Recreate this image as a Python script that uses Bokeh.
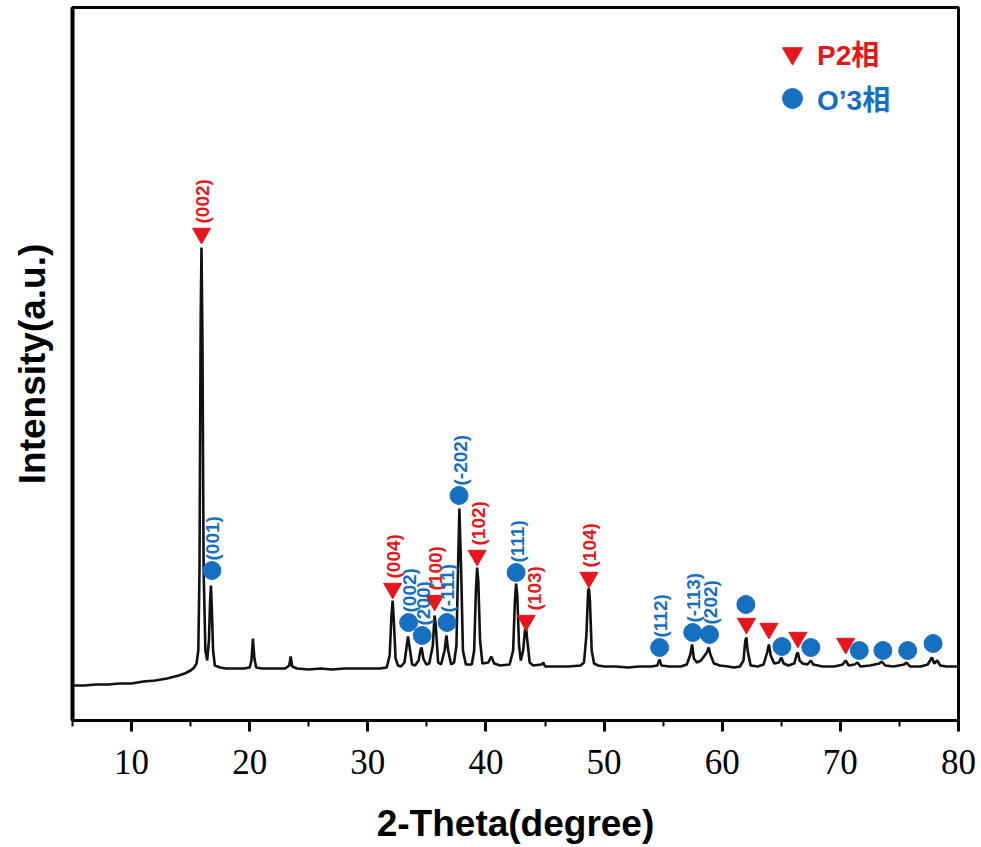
import math
from bokeh.plotting import figure
from bokeh.models import ColumnDataSource, Range1d, FixedTicker, Legend, LegendItem
from bokeh.core.properties import value
from bokeh.embed import file_html
from bokeh.resources import INLINE

# XRD pattern, 2-theta (degree) vs intensity (a.u.)
two_theta = [
    5, 6, 7, 8, 9, 10, 11, 12, 13, 14, 14.5, 15, 15.3, 15.5, 15.65, 15.75,
    15.85, 15.92, 16.0, 16.1, 16.25, 16.4, 16.55, 16.65, 16.72, 16.8, 16.9,
    17.05, 17.5, 18, 18.5, 19, 19.5, 20.0, 20.15, 20.27, 20.4, 20.55, 21, 22,
    23, 23.35, 23.47, 23.6, 24, 25, 26, 27, 28, 29, 30, 31, 31.6, 31.85, 32.0,
    32.1, 32.2, 32.35, 32.55, 32.8, 33.1, 33.3, 33.4, 33.55, 33.75, 34.0, 34.3,
    34.45, 34.55, 34.7, 34.95, 35.2, 35.5, 35.65, 35.75, 35.95, 36.2, 36.5,
    36.65, 36.8, 37.05, 37.3, 37.5, 37.65, 37.75, 37.9, 38.05, 38.3, 38.8,
    39.0, 39.15, 39.25, 39.35, 39.5, 39.7, 40.2, 40.45, 40.7, 41.2, 42.0, 42.3,
    42.45, 42.55, 42.65, 42.8, 42.95, 43.15, 43.3, 43.4, 43.5, 43.7, 44, 44.7,
    44.85, 45, 46, 47, 48, 48.3, 48.5, 48.65, 48.72, 48.8, 48.95, 49.15, 49.5,
    50, 51, 52, 53, 54, 54.5, 54.7, 54.85, 55.5, 56.5, 57.0, 57.3, 57.45, 57.6,
    57.85, 58.2, 58.7, 58.85, 59.0, 59.3, 59.8, 60.5, 61, 61.5, 61.8, 61.95,
    62.05, 62.15, 62.4, 63, 63.5, 63.8, 63.95, 64.1, 64.4, 64.8, 65.0, 65.2,
    65.6, 66.1, 66.3, 66.4, 66.55, 66.8, 67.2, 67.5, 67.7, 68.5, 69.5, 70.2,
    70.45, 70.7, 71.2, 71.45, 71.7, 72.5, 73.3, 73.5, 73.8, 74.5, 75.4, 75.6,
    75.9, 76.8, 77.4, 77.75, 77.95, 78.2, 78.45, 79, 80,
]
intensity = [
    35, 35, 36, 36, 37, 37, 39, 40, 42, 45, 47, 50, 53, 57, 70, 150,
    400, 473, 380, 150, 70, 60, 80, 120, 135, 110, 70,
    55, 53, 52, 52, 52, 52, 53, 60, 82, 62, 53, 52, 52,
    52, 55, 64, 54, 52, 51, 52, 51, 52, 52, 52, 52, 53, 65, 105,
    120, 100, 62, 55, 54, 58, 75, 84, 72, 56, 55, 60,
    70, 73, 62, 56, 57, 75, 105, 95, 58, 56, 70,
    85, 70, 56, 58, 75, 160, 212, 150, 70, 56, 56,
    70, 130, 153, 140, 80, 57, 58, 64, 57, 55, 56, 70,
    120, 137, 125, 75, 60, 70, 90, 92, 80, 58, 55, 56,
    58, 54, 54, 54, 55, 58, 85, 130, 132, 120, 70, 57, 55,
    54, 54, 53, 54, 54, 55, 61, 55, 54, 54, 56, 66, 76, 62,
    58, 60, 68, 73, 66, 57, 55, 54, 53, 54, 60, 80,
    83, 70, 55, 54, 56, 68, 76, 65, 57, 58, 63, 57,
    55, 57, 66, 68, 60, 57, 56, 60, 56, 54, 54, 56,
    60, 55, 56, 58, 54, 55, 57, 59, 55, 54, 56, 58,
    54, 54, 56, 63, 57, 60, 55, 54, 54,
]

# Phase markers: P2 (inverted triangles) and O'3 (circles)
p2_pos = [15.92, 32.1, 35.65, 39.25, 43.4, 48.72, 62.05, 63.95, 66.4, 70.45]
p2_mark = [487, 132, 120, 165, 100, 143, 97, 92, 83, 77]
p2_hkl = ["(002)", "(004)", "(100)", "(102)", "(103)", "(104)", "", "", "", ""]

o3_pos = [16.8, 33.45, 34.6, 36.7, 37.72, 42.55, 54.7, 57.5, 58.92, 62.0,
          65.05, 67.5, 71.6, 73.6, 75.7, 77.85]
o3_mark = [150, 98, 85, 98, 225, 148, 73, 88, 86, 116, 74, 73, 70, 70, 70, 77]
o3_hkl = ["(001)", "(002)", "(200)", "(-111)", "(-202)", "(111)", "(112)",
          "(-113)", "(202)", "", "", "", "", "", "", ""]

RED = "#E5161C"
BLUE = "#1670C2"
SANS = "Liberation Sans, Noto Sans CJK SC"

p = figure(width=981, height=847, output_backend="svg", toolbar_location=None,
           x_range=Range1d(5, 80), y_range=Range1d(0, 713),
           min_border_left=72, min_border_right=23, min_border_top=7,
           min_border_bottom=127)
p.grid.visible = False
p.background_fill_color = "white"
p.border_fill_color = "white"
p.outline_line_color = "black"
p.outline_line_width = 3

# x axis
xa = p.xaxis[0]
xa.ticker = FixedTicker(ticks=[10, 20, 30, 40, 50, 60, 70, 80],
                        minor_ticks=[5, 15, 25, 35, 45, 55, 65, 75])
xa.axis_line_width = 3
xa.major_tick_line_width = 3
xa.major_tick_out = 11
xa.major_tick_in = 0
xa.minor_tick_line_width = 2
xa.minor_tick_out = 6
xa.minor_tick_in = 0
xa.major_label_text_font = "Liberation Serif"
xa.major_label_text_font_size = "35px"
xa.major_label_text_color = "black"
xa.major_label_standoff = 18
xa.axis_label = "2-Theta(degree)"
xa.axis_label_text_font = "Liberation Sans"
xa.axis_label_text_font_style = "bold"
xa.axis_label_text_font_size = "37px"
xa.axis_label_text_color = "black"
xa.axis_label_standoff = 26

# y axis: label only
ya = p.yaxis[0]
ya.ticker = FixedTicker(ticks=[])
ya.axis_line_width = 4
ya.major_tick_line_color = None
ya.minor_tick_line_color = None
ya.major_label_text_font_size = "0px"
ya.axis_label = "Intensity(a.u.)"
ya.axis_label_text_font = "Liberation Sans"
ya.axis_label_text_font_style = "bold"
ya.axis_label_text_font_size = "37px"
ya.axis_label_text_color = "black"
ya.axis_label_standoff = 20

p.line(two_theta, intensity, line_color="#111111", line_width=2.6)

p2_src = ColumnDataSource(dict(x=p2_pos, y=p2_mark, hkl=p2_hkl,
                               dx=[8 if h == "(103)" else 1 for h in p2_hkl]))
o3_src = ColumnDataSource(dict(x=o3_pos, y=o3_mark, hkl=o3_hkl,
                               dx=[1 for h in o3_hkl]))

r_p2 = p.scatter("x", "y", source=p2_src, marker="inverted_triangle", size=18,
                 fill_color=RED, line_color=RED)
r_o3 = p.scatter("x", "y", source=o3_src, marker="circle", size=18,
                 fill_color=BLUE, line_color=BLUE)

for src, col in ((p2_src, RED), (o3_src, BLUE)):
    p.text("x", "y", text="hkl", source=src, angle=math.pi / 2,
           x_offset="dx", y_offset=-10, text_align="left",
           text_baseline="middle", text_font=value("Liberation Sans"),
           text_font_style="bold", text_font_size="19px", text_color=col)

# legend: one box per phase so each label keeps its own colour
for rend, name, col, loc in ((r_p2, "P2相", RED, (695, 642)),
                             (r_o3, "O’3相", BLUE, (695, 597))):
    lg = Legend(items=[LegendItem(label=name, renderers=[rend])],
                location=loc, glyph_width=50, glyph_height=50,
                label_standoff=0, padding=0, margin=0, spacing=0,
                border_line_color=None, background_fill_alpha=0,
                label_text_font=SANS, label_text_font_style="bold",
                label_text_font_size="28px", label_text_color=col)
    p.add_layout(lg)

open("out.html", "w").write(file_html(p, INLINE))
